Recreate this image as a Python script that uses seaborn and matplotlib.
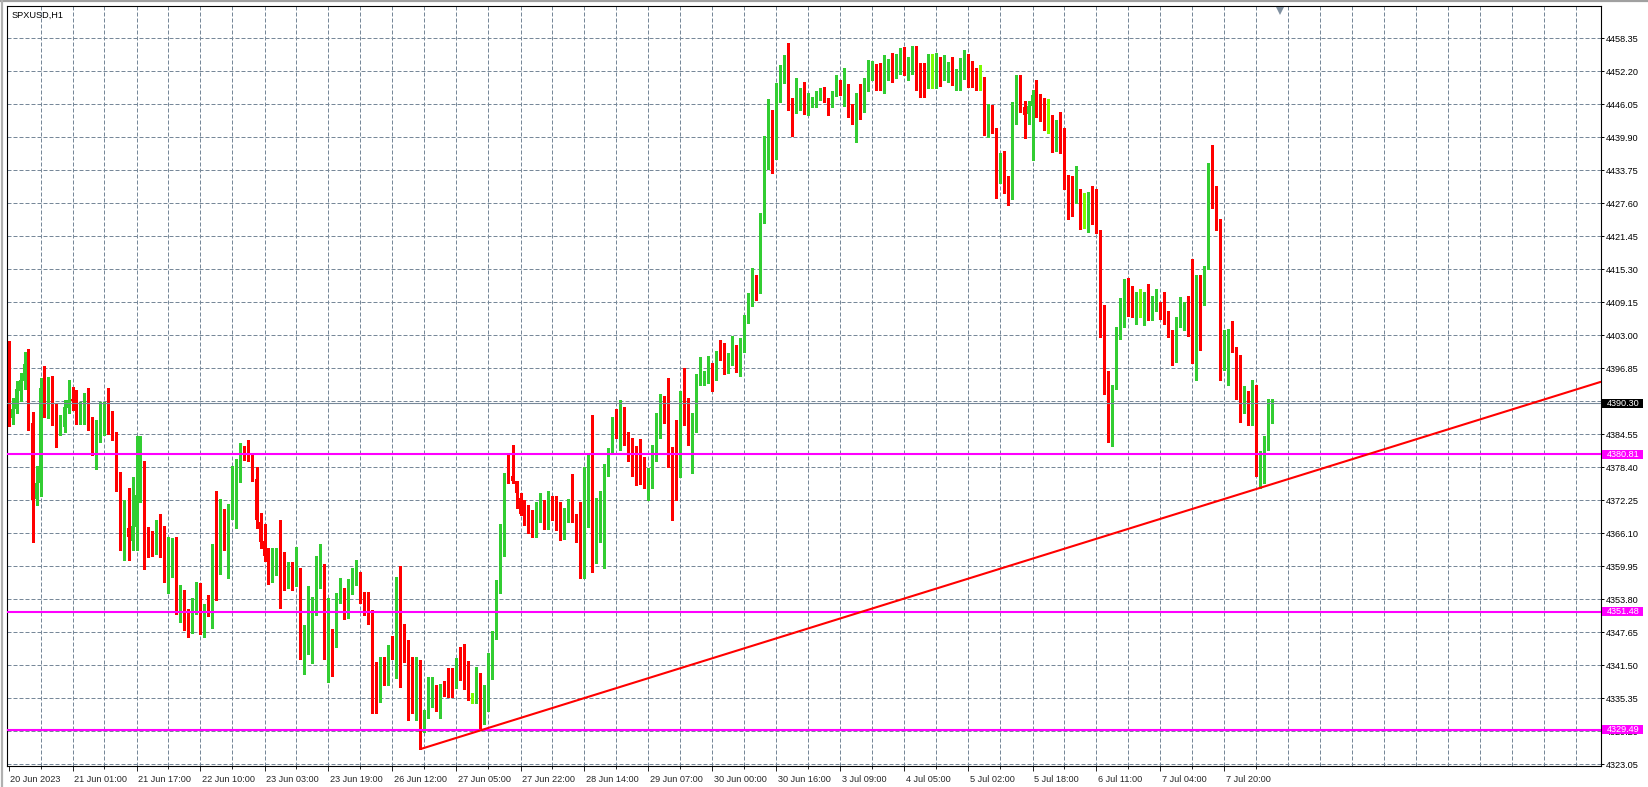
import matplotlib
matplotlib.use('Agg')
import matplotlib.pyplot as plt
import matplotlib.transforms as mtransforms
from matplotlib.patches import Rectangle
from matplotlib.lines import Line2D
import numpy as np
import seaborn as sns

# ---- SPXUSD H1 candles ----
opens = [
    4401.2, 4387.5, 4389.3, 4392.7, 4394.4, 4398.0, 4386.6, 4372.5, 4375.5, 4393.6,
    4388.6, 4391.5, 4387.8, 4384.5, 4385.9, 4389.5, 4391.1, 4391.1, 4388.0, 4388.2,
    4390.3, 4386.6, 4381.8, 4384.6, 4386.2, 4388.5, 4387.8, 4384.7, 4376.2, 4366.4,
    4367.0, 4364.7, 4367.2, 4373.5, 4379.3, 4364.4, 4364.1, 4363.0, 4364.5, 4366.1,
    4356.0, 4360.5, 4361.0, 4352.0, 4354.5, 4350.0, 4348.5, 4352.5, 4355.0, 4349.3,
    4353.0, 4351.5, 4361.3, 4358.8, 4369.9, 4366.1, 4370.5, 4378.4, 4379.1, 4381.5,
    4381.5, 4379.6, 4376.3, 4368.3, 4364.6, 4362.1, 4358.9, 4361.9, 4362.6, 4359.3,
    4356.6, 4359.6, 4356.4, 4359.5, 4344.4, 4346.5, 4349.6, 4352.5, 4359.4, 4359.3,
    4342.8, 4347.6, 4347.8, 4354.2, 4354.9, 4354.2, 4355.1, 4356.7, 4356.9, 4354.0,
    4352.3, 4351.8, 4342.0, 4335.4, 4341.4, 4338.5, 4343.9, 4343.0, 4356.3, 4348.5,
    4345.7, 4337.6, 4335.4, 4340.6, 4330.5, 4332.6, 4334.7, 4337.6, 4333.8, 4337.3,
    4337.0, 4339.1, 4338.3, 4341.3, 4340.0, 4338.9, 4335.8, 4335.5, 4338.8, 4331.0,
    4334.7, 4341.0, 4347.65, 4356.0, 4364.7, 4376.85, 4376.85, 4375.85, 4372.75, 4369.95,
    4369.5, 4367.7, 4367.0, 4369.95, 4370.1, 4367.85, 4371.4, 4369.7, 4368.6, 4365.5,
    4368.9, 4371.2, 4369.0, 4366.9, 4364.7, 4372.5, 4379.8, 4364.86, 4367.5, 4369.3,
    4378.1, 4381.6, 4385.8, 4384.1, 4385.2, 4383.3, 4380.2, 4381.45, 4378.5, 4377.8,
    4375.4, 4375.4, 4381.5, 4385.7, 4388.2, 4388.2, 4380.5, 4379.3, 4377.6, 4391.3,
    4390.3, 4384.1, 4387.85, 4394.7, 4394.6, 4395.3, 4397.2, 4394.8, 4399.15, 4399.15,
    4396.35, 4399.75, 4401.1, 4396.2, 4400.0, 4405.7, 4408.85, 4412.7, 4411.15, 4424.2,
    4437.2, 4440.5, 4438.2, 4448.9, 4452.2, 4453.4, 4445.75, 4444.9, 4445.5, 4449.0,
    4445.3, 4446.7, 4446.75, 4447.75, 4448.1, 4446.85, 4445.75, 4447.8, 4449.95, 4448.6,
    4449.2, 4444.8, 4444.5, 4447.8, 4445.5, 4449.65, 4452.15, 4451.8, 4453.2, 4448.7,
    4451.3, 4455.4, 4451.2, 4451.8, 4452.75, 4451.7, 4453.2, 4456.8, 4452.3, 4451.2,
    4449.35, 4451.3, 4451.2, 4452.15, 4450.6, 4450.7, 4451.3, 4449.65, 4450.3, 4451.35,
    4452.6, 4453.95, 4449.85, 4449.0, 4448.9, 4440.95, 4441.75, 4441.15, 4432.3, 4435.5,
    4429.9, 4429.0, 4445.75, 4451.3, 4445.6, 4444.3, 4445.8, 4447.7, 4444.05, 4442.6,
    4441.5, 4441.7, 4438.1, 4440.5, 4437.9, 4430.5, 4429.0, 4428.2, 4430.1, 4425.3,
    4424.9, 4425.4, 4424.9, 4422.3, 4407.0, 4396.1, 4384.1, 4393.3, 4404.1, 4409.6,
    4413.1, 4409.8, 4405.5, 4408.15, 4408.2, 4410.3, 4406.8, 4408.2, 4408.8, 4406.9,
    4405.3, 4403.3, 4402.4, 4404.7, 4406.8, 4407.45, 4405.7, 4402.9, 4413.5, 4410.5,
    4415.5, 4435.2, 4429.9, 4423.8, 4397.5, 4401.4, 4402.5, 4400.8, 4394.6, 4389.9,
    4390.6, 4387.6, 4390.0, 4377.2, 4380.1, 4383.5, 4387.6,
]
highs = [
    4401.95, 4391.4, 4394.4, 4395.9, 4399.8, 4400.4, 4388.7, 4378.6, 4395.0, 4397.3,
    4395.2, 4395.5, 4390.2, 4388.2, 4390.9, 4394.7, 4393.3, 4392.9, 4390.6, 4392.3,
    4393.1, 4387.8, 4387.2, 4390.6, 4390.5, 4393.1, 4388.9, 4384.9, 4377.5, 4372.4,
    4374.5, 4376.6, 4384.2, 4384.2, 4379.5, 4367.3, 4366.5, 4368.6, 4369.7, 4367.5,
    4365.5, 4365.3, 4365.5, 4356.5, 4355.5, 4352.0, 4354.0, 4357.0, 4356.9, 4353.0,
    4354.6, 4364.1, 4374.0, 4372.5, 4370.6, 4371.5, 4378.6, 4380.0, 4382.9, 4382.3,
    4383.5, 4380.9, 4378.4, 4369.8, 4367.8, 4363.3, 4363.3, 4363.3, 4368.6, 4362.6,
    4360.7, 4360.7, 4363.6, 4359.7, 4349.0, 4356.2, 4354.3, 4361.9, 4364.2, 4360.4,
    4354.0, 4348.2, 4354.9, 4357.7, 4355.9, 4357.5, 4359.6, 4361.1, 4358.8, 4355.2,
    4355.2, 4351.9, 4342.2, 4343.1, 4343.1, 4345.3, 4346.9, 4358.0, 4360.0, 4349.2,
    4346.3, 4343.1, 4343.1, 4342.5, 4333.2, 4339.4, 4339.4, 4337.8, 4338.0, 4338.6,
    4341.0, 4341.0, 4342.9, 4344.9, 4345.5, 4342.4, 4336.3, 4341.1, 4340.0, 4337.9,
    4343.75, 4347.9, 4357.4, 4367.85, 4377.35, 4380.95, 4382.6, 4375.85, 4373.7, 4372.3,
    4371.4, 4370.45, 4372.0, 4373.55, 4372.3, 4373.9, 4373.1, 4373.1, 4372.0, 4370.8,
    4372.5, 4377.2, 4369.7, 4372.0, 4378.5, 4381.0, 4388.15, 4372.6, 4374.0, 4379.0,
    4382.0, 4387.7, 4389.2, 4390.95, 4389.6, 4384.95, 4383.8, 4382.4, 4383.65, 4380.4,
    4378.2, 4382.6, 4388.5, 4392.1, 4391.6, 4395.1, 4382.1, 4387.2, 4392.6, 4396.85,
    4391.4, 4388.5, 4395.75, 4399.0, 4396.3, 4399.2, 4397.8, 4400.1, 4402.1, 4401.5,
    4399.75, 4402.9, 4401.2, 4402.45, 4406.8, 4410.8, 4415.5, 4414.25, 4425.85, 4440.2,
    4447.05, 4444.9, 4450.1, 4453.4, 4455.25, 4457.55, 4447.2, 4450.9, 4449.0, 4450.3,
    4448.2, 4447.5, 4448.5, 4449.0, 4449.3, 4447.3, 4448.6, 4451.5, 4450.6, 4452.9,
    4449.85, 4446.2, 4448.1, 4449.8, 4451.0, 4454.3, 4454.2, 4453.5, 4453.8, 4455.25,
    4454.4, 4455.6, 4455.5, 4456.6, 4456.8, 4454.8, 4456.9, 4456.9, 4453.8, 4453.8,
    4455.4, 4455.4, 4455.7, 4454.8, 4455.25, 4454.0, 4454.8, 4452.6, 4454.6, 4456.2,
    4455.4, 4454.1, 4452.8, 4453.4, 4451.1, 4446.2, 4445.9, 4441.6, 4436.9, 4437.35,
    4432.7, 4446.55, 4451.5, 4451.5, 4446.65, 4446.7, 4448.7, 4450.6, 4448.0, 4447.2,
    4447.0, 4444.05, 4443.1, 4444.7, 4441.6, 4432.9, 4432.7, 4434.55, 4430.3, 4429.5,
    4429.8, 4430.75, 4430.3, 4422.7, 4408.6, 4396.3, 4393.7, 4404.5, 4409.9, 4413.5,
    4413.7, 4412.2, 4411.0, 4411.7, 4411.0, 4412.5, 4410.4, 4411.7, 4409.3, 4411.0,
    4407.6, 4403.9, 4406.4, 4410.2, 4409.2, 4410.4, 4417.2, 4414.2, 4414.2, 4415.9,
    4435.2, 4438.5, 4430.9, 4424.7, 4404.0, 4404.1, 4405.7, 4400.9, 4399.4, 4393.5,
    4392.55, 4394.6, 4393.7, 4381.5, 4384.2, 4391.2, 4391.2,
]
lows = [
    4386.1, 4386.5, 4388.5, 4390.8, 4393.0, 4385.4, 4364.5, 4371.4, 4373.0, 4387.8,
    4387.5, 4386.3, 4382.1, 4384.4, 4384.9, 4388.5, 4389.1, 4386.5, 4386.4, 4386.4,
    4385.4, 4380.7, 4378.0, 4383.2, 4384.4, 4384.7, 4383.5, 4373.9, 4363.0, 4361.1,
    4361.1, 4363.0, 4363.0, 4371.9, 4359.5, 4361.7, 4361.9, 4362.2, 4361.7, 4357.0,
    4355.0, 4358.0, 4351.0, 4349.5, 4348.0, 4346.8, 4347.5, 4351.0, 4347.4, 4346.8,
    4350.7, 4348.4, 4353.7, 4358.5, 4362.9, 4357.8, 4368.7, 4367.0, 4375.7, 4379.8,
    4379.5, 4375.9, 4367.0, 4363.3, 4361.0, 4356.6, 4357.1, 4358.3, 4352.2, 4355.6,
    4355.9, 4355.6, 4356.2, 4342.6, 4339.9, 4343.6, 4342.0, 4350.9, 4355.9, 4342.6,
    4338.4, 4339.5, 4345.0, 4353.1, 4350.1, 4350.4, 4354.8, 4356.4, 4353.2, 4350.8,
    4349.2, 4332.7, 4332.7, 4334.7, 4337.8, 4337.8, 4342.6, 4339.1, 4337.5, 4342.2,
    4331.3, 4332.6, 4331.3, 4325.9, 4329.0, 4331.6, 4333.8, 4332.9, 4331.6, 4335.7,
    4335.6, 4335.6, 4337.2, 4338.8, 4337.0, 4335.0, 4334.4, 4334.4, 4329.6, 4330.5,
    4332.9, 4338.9, 4346.5, 4354.9, 4361.9, 4375.4, 4375.4, 4370.8, 4369.5, 4367.65,
    4366.1, 4365.5, 4365.5, 4368.3, 4366.9, 4366.9, 4368.6, 4366.7, 4364.85, 4365.0,
    4368.3, 4368.3, 4364.55, 4357.85, 4357.7, 4367.35, 4358.95, 4360.6, 4364.55, 4359.7,
    4376.7, 4381.0, 4383.8, 4381.65, 4382.6, 4379.5, 4376.85, 4375.1, 4375.2, 4374.6,
    4372.3, 4374.6, 4379.5, 4383.8, 4386.6, 4378.5, 4368.6, 4372.3, 4376.55, 4386.3,
    4382.6, 4377.3, 4385.05, 4393.75, 4393.75, 4394.05, 4392.7, 4394.7, 4398.4, 4395.75,
    4396.05, 4397.4, 4396.1, 4395.4, 4399.8, 4405.25, 4408.55, 4409.5, 4410.95, 4423.9,
    4433.95, 4433.3, 4435.95, 4446.4, 4450.1, 4445.0, 4440.15, 4444.5, 4445.0, 4444.25,
    4444.05, 4445.6, 4445.5, 4446.85, 4446.55, 4444.05, 4445.5, 4447.6, 4447.8, 4445.75,
    4443.75, 4442.4, 4439.1, 4443.3, 4444.7, 4448.6, 4450.6, 4448.7, 4448.7, 4448.1,
    4450.6, 4450.3, 4451.0, 4451.7, 4451.5, 4450.5, 4451.7, 4448.7, 4447.35, 4447.35,
    4449.0, 4449.0, 4449.0, 4449.5, 4450.5, 4450.3, 4449.65, 4448.7, 4448.7, 4450.7,
    4449.35, 4449.35, 4448.7, 4448.7, 4440.35, 4439.9, 4440.65, 4428.5, 4431.3, 4429.5,
    4427.3, 4428.4, 4442.4, 4444.6, 4439.7, 4442.35, 4435.7, 4443.6, 4442.9, 4441.3,
    4440.7, 4437.2, 4437.3, 4437.0, 4430.2, 4424.6, 4425.2, 4427.7, 4422.9, 4423.0,
    4422.3, 4423.8, 4422.0, 4402.7, 4392.0, 4383.2, 4382.4, 4393.0, 4402.3, 4404.5,
    4406.6, 4406.5, 4405.1, 4406.4, 4405.0, 4405.8, 4405.8, 4407.45, 4406.1, 4405.2,
    4402.6, 4397.5, 4398.1, 4404.6, 4403.9, 4402.9, 4397.8, 4394.7, 4400.2, 4408.6,
    4415.4, 4426.8, 4422.7, 4394.7, 4396.6, 4393.8, 4399.8, 4391.2, 4386.9, 4388.5,
    4386.2, 4386.2, 4376.8, 4374.6, 4375.55, 4381.6, 4386.6,
]
closes = [
    4387.8, 4389.3, 4393.0, 4394.7, 4397.7, 4386.9, 4372.3, 4375.5, 4393.2, 4389.0,
    4391.1, 4387.8, 4385.1, 4385.7, 4389.6, 4390.9, 4390.8, 4387.8, 4388.5, 4390.6,
    4386.3, 4381.3, 4384.6, 4387.2, 4387.5, 4387.8, 4384.9, 4375.9, 4366.1, 4366.9,
    4365.4, 4367.5, 4373.3, 4379.6, 4363.6, 4363.5, 4362.9, 4364.4, 4363.9, 4359.0,
    4360.5, 4361.0, 4352.0, 4354.5, 4350.0, 4348.5, 4352.5, 4355.0, 4349.0, 4352.8,
    4351.3, 4361.1, 4358.6, 4369.7, 4366.1, 4371.1, 4378.4, 4379.4, 4382.4, 4381.3,
    4379.8, 4376.5, 4368.5, 4364.4, 4361.8, 4359.3, 4362.4, 4363.0, 4358.9, 4356.6,
    4359.9, 4356.5, 4359.6, 4344.7, 4347.0, 4349.3, 4352.5, 4359.4, 4359.5, 4342.9,
    4347.0, 4344.7, 4354.4, 4354.9, 4353.9, 4354.9, 4356.5, 4357.1, 4354.3, 4352.4,
    4351.8, 4341.9, 4335.0, 4341.1, 4338.3, 4344.0, 4343.2, 4356.2, 4348.2, 4345.3,
    4337.4, 4335.0, 4340.9, 4330.5, 4332.55, 4335.0, 4337.3, 4334.0, 4337.3, 4337.0,
    4336.8, 4338.0, 4341.1, 4340.0, 4338.8, 4335.9, 4335.8, 4338.65, 4331.0, 4334.7,
    4341.3, 4347.65, 4356.3, 4365.05, 4376.85, 4376.47, 4375.9, 4373.56, 4369.7, 4369.6,
    4367.7, 4366.85, 4369.95, 4372.5, 4368.15, 4371.6, 4369.7, 4368.8, 4365.85, 4368.6,
    4371.4, 4368.9, 4366.6, 4364.85, 4372.5, 4379.6, 4364.55, 4367.5, 4369.2, 4378.5,
    4381.45, 4386.1, 4384.4, 4385.0, 4382.75, 4379.8, 4378.2, 4377.8, 4377.9, 4375.1,
    4375.6, 4381.8, 4385.55, 4388.2, 4387.9, 4380.1, 4379.4, 4377.3, 4391.15, 4389.7,
    4384.0, 4387.85, 4395.0, 4395.8, 4395.3, 4396.85, 4394.8, 4399.35, 4398.6, 4396.7,
    4397.65, 4401.2, 4396.35, 4400.3, 4405.7, 4408.85, 4413.1, 4410.95, 4424.1, 4437.1,
    4440.35, 4438.0, 4448.7, 4452.2, 4453.1, 4445.3, 4442.8, 4446.05, 4448.7, 4445.3,
    4446.55, 4447.05, 4447.95, 4448.55, 4446.85, 4445.6, 4448.4, 4450.3, 4448.6, 4449.0,
    4444.5, 4444.05, 4447.05, 4445.1, 4449.45, 4452.75, 4452.45, 4450.3, 4448.9, 4451.05,
    4452.2, 4451.1, 4452.45, 4452.75, 4451.95, 4453.1, 4454.0, 4449.2, 4450.7, 4449.5,
    4451.2, 4451.35, 4451.95, 4450.6, 4451.2, 4451.3, 4449.95, 4450.1, 4452.0, 4452.9,
    4450.3, 4449.85, 4449.35, 4449.05, 4440.8, 4442.0, 4440.8, 4432.6, 4435.05, 4429.8,
    4429.3, 4445.3, 4451.1, 4445.6, 4444.05, 4445.8, 4447.8, 4444.0, 4443.4, 4441.5,
    4441.55, 4437.9, 4440.8, 4437.2, 4430.5, 4428.4, 4428.1, 4429.9, 4424.9, 4425.35,
    4425.6, 4424.8, 4422.8, 4407.0, 4395.7, 4383.9, 4393.2, 4404.1, 4409.8, 4413.0,
    4406.9, 4407.0, 4408.8, 4408.15, 4409.9, 4407.1, 4408.8, 4409.0, 4406.6, 4405.5,
    4403.0, 4401.6, 4405.2, 4407.2, 4407.7, 4405.4, 4402.4, 4414.0, 4410.4, 4415.7,
    4435.0, 4430.2, 4423.8, 4397.2, 4400.1, 4402.2, 4400.5, 4394.2, 4388.9, 4390.9,
    4388.05, 4390.0, 4377.1, 4380.0, 4383.2, 4387.9, 4390.3,
]

time_labels = ['20 Jun 2023', '21 Jun 01:00', '21 Jun 17:00', '22 Jun 10:00', '23 Jun 03:00',
               '23 Jun 19:00', '26 Jun 12:00', '27 Jun 05:00', '27 Jun 22:00', '28 Jun 14:00',
               '29 Jun 07:00', '30 Jun 00:00', '30 Jun 16:00', '3 Jul 09:00', '4 Jul 05:00',
               '5 Jul 02:00', '5 Jul 18:00', '6 Jul 11:00', '7 Jul 04:00', '7 Jul 20:00']
price_ticks = [4323.05, 4329.20, 4335.35, 4341.50, 4347.65, 4353.80, 4359.95, 4366.10,
               4372.25, 4378.40, 4384.55, 4390.70, 4396.85, 4403.00, 4409.15, 4415.30,
               4421.45, 4427.60, 4433.75, 4439.90, 4446.05, 4452.20, 4458.35]
hidden_tick = 4390.70          # covered by the bid label
level_prices = [4380.81, 4351.48, 4329.49]
bid_price = 4390.30
trend_bars = [103, 313]
trend_prices = [4325.9, 4374.6]
symbol = 'SPXUSD,H1'

# ---- style ----
sns.set_style('white')
plt.rcParams['font.family'] = ['Liberation Sans', 'DejaVu Sans']
GRID = '#778899'
UP, DOWN, DOJI = '#32CD32', '#FF0000', '#7CFC00'
FS = 6.6

W, H = 1648, 787
fig = plt.figure(figsize=(W / 100, H / 100), dpi=100)
fig.patch.set_facecolor('white')
ax = fig.add_axes([7 / W, 21 / H, 1593.7 / W, 760 / H])

n = len(closes)
x = np.arange(n)
o, h, l, c = map(np.array, (opens, highs, lows, closes))
cols = np.where(np.abs(c - o) < 0.08, DOJI, np.where(c >= o, UP, DOWN))

xmin, xmax = -0.375, 398.05
ymin, ymax = 4322.74, 4464.37
ax.set_xlim(xmin, xmax)
ax.set_ylim(ymin, ymax)

# grid
dash = (0, (4, 2))
ax.hlines(price_ticks, xmin, xmax, colors=GRID, linewidth=0.72, linestyles=[dash], zorder=0)
ax.vlines(np.arange(8, xmax, 8), ymin, ymax, colors=GRID, linewidth=0.72,
          linestyles=[dash], zorder=0)

# candles
body_lo = np.minimum(o, c)
body_h = np.maximum(np.abs(c - o), 0.19)
ax.vlines(x, l, h, colors=cols, linewidth=0.75, antialiased=False, zorder=2)
ax.bar(x, body_h, bottom=body_lo, width=0.58, color=cols, linewidth=0,
       antialiased=False, zorder=2)

# horizontal levels and bid line
for p in level_prices:
    ax.axhline(p, color='#FF00FF', linewidth=1.5, zorder=3)
ax.axhline(bid_price, color=GRID, linewidth=0.8, zorder=3)

# trend line (ray from the first anchor to the right edge)
slope = (trend_prices[1] - trend_prices[0]) / (trend_bars[1] - trend_bars[0])
tx = [trend_bars[0], xmax]
ty = [trend_prices[0], trend_prices[0] + slope * (xmax - trend_bars[0])]
sns.lineplot(x=tx, y=ty, ax=ax, color='#FF0000', linewidth=1.5, zorder=4)

# frame
for s in ax.spines.values():
    s.set_color('black')
    s.set_linewidth(0.8)

# price axis
ax.yaxis.tick_right()
ax.set_yticks(price_ticks)
ax.set_yticklabels(['' if abs(p - hidden_tick) < 1e-6 else f'{p:.2f}' for p in price_ticks])
ax.tick_params(axis='y', right=True, left=False, length=2.2, width=0.7, pad=1.8,
               labelsize=FS, colors='black', direction='out')

# time axis
label_bars = np.arange(0, 16 * len(time_labels), 16)
ax.set_xticks(label_bars)
ax.set_xticks(label_bars + 8, minor=True)
ax.tick_params(axis='x', which='major', length=3.5, width=0.7, direction='out',
               labelbottom=False, bottom=True)
ax.tick_params(axis='x', which='minor', length=1.8, width=0.7, direction='out', bottom=True)
for b, txt in zip(label_bars, time_labels):
    ax.annotate(txt, xy=(b, 0), xycoords=('data', 'axes fraction'), xytext=(1.0, -10),
                textcoords='offset points', ha='left', va='center', fontsize=FS,
                annotation_clip=False)

# boxed price labels
blend = mtransforms.blended_transform_factory(ax.transAxes, ax.transData)
box_w = 41 / 1593.7
box_hh = 4.6 / 5.366
for p, fc in [(bid_price, 'black')] + [(q, '#FF00FF') for q in level_prices]:
    ax.add_patch(Rectangle((1 + 1.6 / 1593.7, p - box_hh), box_w, 2 * box_hh,
                           transform=blend, facecolor=fc, edgecolor='none',
                           clip_on=False, zorder=5))
    ax.annotate(f'{p:.2f}', xy=(1, p), xycoords=blend, xytext=(4.1, 0),
                textcoords='offset points', ha='left', va='center', fontsize=FS,
                color='white', zorder=6, annotation_clip=False)

# chart shift marker and symbol caption
ax.plot([n + 1], [0.993], marker='v', markersize=6, color='#8090A0',
        transform=mtransforms.blended_transform_factory(ax.transData, ax.transAxes),
        clip_on=False, zorder=6, markeredgewidth=0)
fig.text(12 / W, 1 - 15 / H, symbol, ha='left', va='center', fontsize=FS, color='black')

# window frame
fig.add_artist(Line2D([0, 1], [1 - 1 / H, 1 - 1 / H], color='#A0A0A0', linewidth=1.6))
fig.add_artist(Line2D([1.5 / W, 1.5 / W], [0, 1], color='#B0B0B0', linewidth=1.6))

fig.savefig('out.png', dpi=100, facecolor='white')
